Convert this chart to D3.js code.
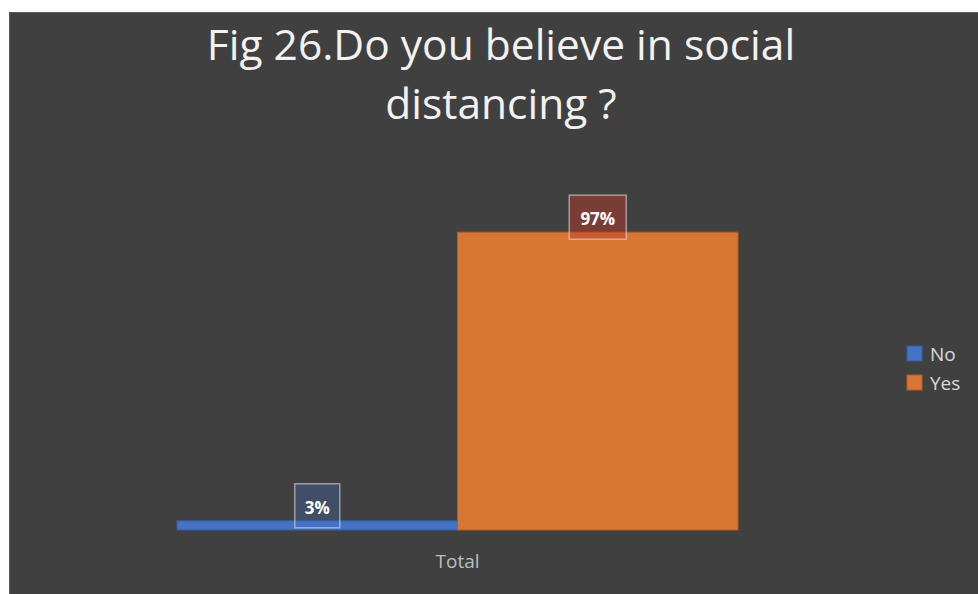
<!DOCTYPE html>
<html>
  <head>
    <meta charset="utf-8">
    <title>Fig 26</title>
    <script src="https://cdn.jsdelivr.net/npm/d3@7"></script>
    <style>
      body { margin: 0; background: #ffffff; }
    </style>
  </head>
  <body>
    <script>
// data
const categories = ["Total"];
const series = ["No", "Yes"];
const values = [0.03, 0.97];
const labels = ["3%", "97%"];
const colors = ["#4472c4", "#d97634"];
const labelFills = ["#4472c4", "#c0392b"];
const titleLines = ["Fig 26.Do you believe in social", "distancing ?"];

const w = 978;
const h = 594;

const svg = d3.select("body")
  .append("svg")
  .attr("width", w)
  .attr("height", h);

// chart background
svg.append("rect")
  .attr("x", 9.5)
  .attr("y", 12.5)
  .attr("width", w - 9)
  .attr("height", h - 12)
  .attr("fill", "#404040")
  .attr("stroke", "#595959")
  .attr("stroke-width", 1);

// title
svg.selectAll(".title")
  .data(titleLines)
  .enter()
  .append("text")
  .attr("class", "title")
  .attr("x", 501)
  .attr("y", function(d, i) { return 60 + i * 59; })
  .attr("text-anchor", "middle")
  .attr("font-family", "Open Sans")
  .attr("font-size", "42.5px")
  .attr("fill", "#f2f2f2")
  .text(function(d) { return d; });

// scales
const x0 = d3.scaleBand()
  .domain(categories)
  .range([177, 738]);

const x1 = d3.scaleBand()
  .domain(series)
  .range([0, x0.bandwidth()]);

const y = d3.scaleLinear()
  .domain([0, 1])
  .range([530, 223]);

// bars
const g = svg.append("g")
  .attr("transform", "translate(" + x0("Total") + ",0)");

g.selectAll("rect")
  .data(values)
  .enter()
  .append("rect")
  .attr("x", function(d, i) { return x1(series[i]); })
  .attr("y", function(d) { return y(d); })
  .attr("width", x1.bandwidth())
  .attr("height", function(d) { return y(0) - y(d); })
  .attr("fill", function(d, i) { return colors[i]; })
  .attr("stroke", function(d, i) { return d3.color(colors[i]).darker(0.6); })
  .attr("stroke-width", 1);

// data labels
const lab = g.selectAll(".lab")
  .data(values)
  .enter()
  .append("g")
  .attr("class", "lab")
  .attr("transform", function(d, i) {
    return "translate(" + (x1(series[i]) + x1.bandwidth() / 2) + "," + y(d) + ")";
  });

lab.append("rect")
  .attr("x", function(d, i) { return i == 0 ? -22.5 : -28.5; })
  .attr("y", -37)
  .attr("width", function(d, i) { return i == 0 ? 45 : 57; })
  .attr("height", 44)
  .attr("fill", function(d, i) { return labelFills[i]; })
  .attr("fill-opacity", function(d, i) { return i == 0 ? 0.3 : 0.45; })
  .attr("stroke", "#d9d9d9")
  .attr("stroke-opacity", 0.6)
  .attr("stroke-width", 1.5);

lab.append("text")
  .attr("y", -7)
  .attr("text-anchor", "middle")
  .attr("font-family", "Open Sans")
  .attr("font-weight", "bold")
  .attr("font-size", "17px")
  .attr("fill", "#ffffff")
  .text(function(d, i) { return labels[i]; });

// category axis
const xAxis = d3.axisBottom(x0).tickSize(0).tickPadding(0);
const ax = svg.append("g")
  .attr("transform", "translate(0,530)")
  .call(xAxis);
ax.select(".domain").remove();
ax.selectAll("text")
  .attr("y", 38)
  .attr("dy", 0)
  .attr("font-family", "Open Sans")
  .attr("font-size", "19px")
  .attr("fill", "#bfbfbf");

// legend
const legend = svg.selectAll(".legend")
  .data(series)
  .enter()
  .append("g")
  .attr("class", "legend")
  .attr("transform", function(d, i) { return "translate(907," + (346 + i * 29) + ")"; });

legend.append("rect")
  .attr("width", 15)
  .attr("height", 15)
  .attr("fill", function(d, i) { return colors[i]; })
  .attr("stroke", function(d, i) { return d3.color(colors[i]).darker(0.6); });

legend.append("text")
  .attr("x", 23)
  .attr("y", 15)
  .attr("font-family", "Open Sans")
  .attr("font-size", "19px")
  .attr("fill", "#d9d9d9")
  .text(function(d) { return d; });
    </script>
  </body>
</html>
